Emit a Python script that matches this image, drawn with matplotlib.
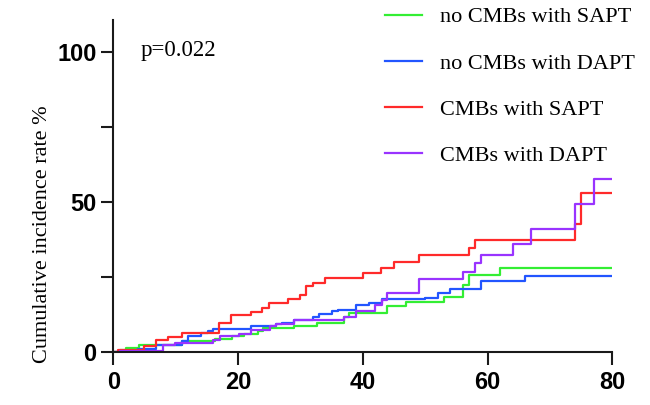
import matplotlib.pyplot as plt
import matplotlib as mpl

mpl.rcParams['font.family'] = ['Liberation Sans', 'DejaVu Sans']

# 数据: 时间 / 累积发生率 (%)
t_nosapt = [0, 1.0, 2.0, 4.1, 11.0, 16.3, 19.0, 21.0, 23.2, 24.0, 29.0, 32.6, 37.0, 37.8,
            43.9, 46.9, 53.0, 56.0, 57.0, 62.0, 80]
y_nosapt = [0, 0.6, 1.3, 2.4, 3.8, 4.3, 5.2, 6.1, 7.1, 8.0, 8.5, 9.6, 11.8, 12.9,
            15.2, 16.6, 18.3, 22.3, 25.6, 27.9, 27.9]

t_nodapt = [0, 1.0, 3.9, 6.9, 11.0, 12.0, 14.1, 15.1, 16.0, 22.0, 26.0, 27.0, 29.0, 32.0,
            33.0, 35.0, 36.0, 38.9, 41.0, 43.0, 49.9, 52.0, 54.0, 59.0, 66.0, 80]
y_nodapt = [0, 0.4, 1.0, 2.4, 3.5, 5.2, 6.3, 6.9, 7.7, 8.5, 9.4, 9.8, 10.7, 11.8,
            12.7, 13.5, 14.0, 15.5, 16.3, 17.6, 17.9, 19.7, 20.8, 23.5, 25.2, 25.2]

t_sapt = [0, 0.8, 5.0, 6.9, 8.8, 11.0, 17.0, 18.9, 22.0, 23.9, 25.0, 28.0, 30.0, 30.9,
          32.0, 33.9, 40.0, 42.9, 45.0, 49.0, 57.0, 58.0, 74.0, 75.0, 80]
y_sapt = [0, 0.8, 2.0, 4.0, 5.0, 6.2, 9.6, 12.2, 13.3, 14.8, 16.2, 17.5, 19.0, 21.8,
          23.1, 24.7, 26.3, 28.1, 30.1, 32.3, 34.7, 37.3, 42.5, 52.9, 52.9]

t_dapt = [0, 1.0, 8.0, 9.9, 16.0, 17.1, 20.1, 22.1, 25.1, 26.0, 29.0, 37.0, 38.9, 41.9,
          43.0, 43.9, 49.0, 56.0, 58.0, 59.0, 64.0, 67.0, 74.0, 77.0, 80]
y_dapt = [0, 0.3, 2.2, 3.0, 3.9, 5.2, 6.1, 7.4, 8.5, 9.3, 10.7, 11.8, 13.5, 15.7,
          17.4, 19.6, 24.2, 26.7, 29.5, 32.3, 35.9, 40.8, 49.1, 57.6, 57.6]

series = [
    (t_nosapt, y_nosapt, '#33EE33', 'no CMBs with SAPT'),
    (t_nodapt, y_nodapt, '#2255FF', 'no CMBs with DAPT'),
    (t_sapt, y_sapt, '#FF2A2A', 'CMBs with SAPT'),
    (t_dapt, y_dapt, '#9933FF', 'CMBs with DAPT'),
]
serif = ['Liberation Serif', 'DejaVu Serif']

fig = plt.figure(figsize=(6.5, 4.05), dpi=100, facecolor='w')
ax = fig.add_axes([0.1743, 0.1309, 0.768, 0.8198])

for t, y, c, lab in series:
    ax.step(t, y, where='post', color=c, lw=1.6, label=lab)

ax.set_xlim(0, 80)
ax.set_ylim(0, 110.5)
ax.set_xticks([0, 20, 40, 60, 80])
ax.set_yticks([0, 50, 100])
ax.set_yticks([25, 75], minor=True)

for s in ['top', 'right']:
    ax.spines[s].set_visible(False)
for s in ['left', 'bottom']:
    ax.spines[s].set_linewidth(1.5)
    ax.spines[s].set_color('#1a1a1a')

ax.tick_params(axis='both', which='both', direction='out', width=1.5, color='#1a1a1a')
ax.tick_params(axis='y', which='major', length=9, pad=3)
ax.tick_params(axis='y', which='minor', length=9)
ax.tick_params(axis='x', which='major', length=9, pad=5)
for lbl in ax.get_xticklabels() + ax.get_yticklabels():
    lbl.set_fontsize(17)
    lbl.set_fontweight('bold')

ax.set_ylabel('Cumulative incidence rate %', family=serif, fontsize=16)
ax.yaxis.set_label_coords(-0.123, 0.355)

ax.text(4.4, 100.5, 'p=0.022', family=serif, fontsize=16.5, va='center', ha='left')

fig.legend(loc='upper left', bbox_to_anchor=(385 / 650, 0.983), frameon=False,
           prop={'family': serif, 'size': 16},
           handlelength=1.67, handletextpad=0.81, labelspacing=1.15,
           borderpad=0.0, borderaxespad=0.0)

fig.savefig('out.png', dpi=100)
